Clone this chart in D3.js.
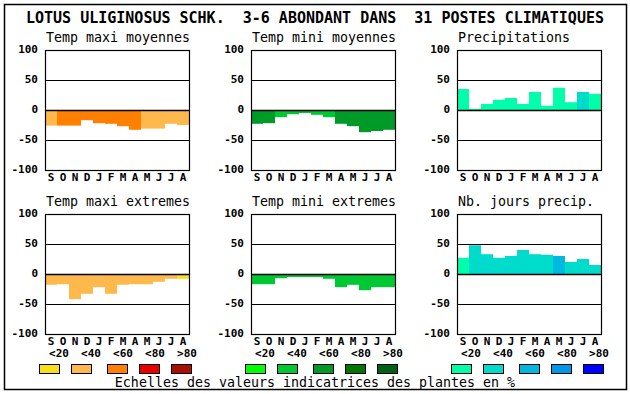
<!DOCTYPE html>
<html>
<head>
<meta charset="utf-8">
<script src="https://cdn.jsdelivr.net/npm/d3@7"></script>
<style>
  body { margin: 0; background: #fff; }
  text { font-family: "DejaVu Sans Mono", "Liberation Mono", monospace; fill: #000; }
</style>
</head>
<body>
<div id="chart"></div>
<script>
// data

var months = ["S", "O", "N", "D", "J", "F", "M", "A", "M", "J", "J", "A"];
var classLabels = ["<20", "<40", "<60", "<80", ">80"];
var yTicks = [100, 50, 0, -50, -100];

var tmaxMoy = [-26, -26, -26, -17, -22, -23, -27, -33, -31, -31, -23, -25];
var tmaxMoyCls = [1, 2, 2, 2, 2, 2, 2, 2, 1, 1, 1, 1];

var tminMoy = [-23, -22, -12, -7, -5, -8, -12, -23, -27, -37, -35, -33];
var tminMoyCls = [2, 2, 1, 1, 1, 1, 1, 2, 2, 2, 2, 2];

var precip = [35, 2, 10, 17, 20, 10, 30, 7, 37, 13, 30, 27];
var precipCls = [0, 0, 0, 0, 0, 0, 0, 0, 0, 0, 1, 0];

var tmaxExt = [-18, -17, -42, -33, -22, -33, -18, -17, -17, -13, -8, -8];
var tmaxExtCls = [1, 1, 1, 1, 1, 1, 1, 1, 1, 1, 1, 0];

var tminExt = [-17, -17, -7, -5, -5, -5, -8, -22, -18, -27, -22, -22];
var tminExtCls = [1, 1, 1, 1, 1, 1, 1, 1, 1, 1, 1, 1];

var nbJours = [27, 48, 33, 27, 30, 40, 33, 32, 30, 20, 25, 15];
var nbJoursCls = [0, 1, 1, 1, 1, 1, 1, 1, 2, 1, 1, 1];

var warmColors = ["#f8e018", "#ffb84c", "#ff8000", "#e80000", "#a81000"];
var greenColors = ["#00ff00", "#00c832", "#009a28", "#007800", "#006018"];
var wetColors = ["#00ffaa", "#00dccc", "#00b8e0", "#0098e8", "#0000ff"];

var title = "LOTUS ULIGINOSUS SCHK.  3-6 ABONDANT DANS  31 POSTES CLIMATIQUES";
var footer = "Echelles des valeurs indicatrices des plantes en %";

// layout

var svgWidth = 630;
var svgHeight = 394;
var plotW = 144;
var plotH = 120;

var panels = [
  { name: "Temp maxi moyennes", vals: tmaxMoy, cls: tmaxMoyCls, colors: warmColors, x: 45, y: 50 },
  { name: "Temp mini moyennes", vals: tminMoy, cls: tminMoyCls, colors: greenColors, x: 251, y: 50 },
  { name: "Precipitations", vals: precip, cls: precipCls, colors: wetColors, x: 457, y: 50 },
  { name: "Temp maxi extremes", vals: tmaxExt, cls: tmaxExtCls, colors: warmColors, x: 45, y: 214 },
  { name: "Temp mini extremes", vals: tminExt, cls: tminExtCls, colors: greenColors, x: 251, y: 214 },
  { name: "Nb. jours precip.", vals: nbJours, cls: nbJoursCls, colors: wetColors, x: 457, y: 214 }
];

var svg = d3.select("#chart")
  .append("svg")
  .attr("width", svgWidth)
  .attr("height", svgHeight);

svg.append("rect")
  .attr("x", 4.5).attr("y", 4.5)
  .attr("width", 622).attr("height", 385)
  .attr("fill", "none").attr("stroke", "#000").attr("stroke-width", 1.5);

svg.append("text")
  .attr("x", 26).attr("y", 18)
  .attr("dominant-baseline", "middle")
  .attr("font-size", "15px").attr("font-weight", "bold")
  .attr("xml:space", "preserve")
  .style("white-space", "pre")
  .text(title);

var xScale = d3.scaleBand().domain(d3.range(12)).range([0, plotW]).padding(0);
var yScale = d3.scaleLinear().domain([-100, 100]).range([plotH, 0]);

panels.forEach(function(p) {
  var g = svg.append("g").attr("transform", `translate(${p.x}, ${p.y})`);

  g.append("text")
    .attr("x", 1).attr("y", -12)
    .attr("dominant-baseline", "middle")
    .attr("font-size", "13.3px")
    .attr("xml:space", "preserve")
    .style("white-space", "pre")
    .text(p.name);

  // bars
  g.selectAll("rect.bar")
    .data(p.vals)
    .enter()
    .append("rect")
    .attr("class", "bar")
    .attr("x", (d, i) => xScale(i))
    .attr("width", xScale.bandwidth())
    .attr("y", d => yScale(Math.max(0, d)))
    .attr("height", d => Math.abs(yScale(d) - yScale(0)))
    .attr("fill", (d, i) => p.colors[p.cls[i]]);

  // grid lines
  g.selectAll("line.grid")
    .data([50, 0, -50])
    .enter()
    .append("line")
    .attr("x1", 0).attr("x2", plotW)
    .attr("y1", d => Math.round(yScale(d)) + 0.5)
    .attr("y2", d => Math.round(yScale(d)) + 0.5)
    .attr("stroke", "#000")
    .attr("stroke-width", d => d === 0 ? 1.6 : 1.2);

  g.append("rect")
    .attr("x", 0.5).attr("y", 0.5)
    .attr("width", plotW).attr("height", plotH)
    .attr("fill", "none").attr("stroke", "#000").attr("stroke-width", 1.2);

  // y tick labels
  g.selectAll("text.ytick")
    .data(yTicks)
    .enter()
    .append("text")
    .attr("class", "ytick")
    .attr("x", -7)
    .attr("y", d => yScale(d))
    .attr("text-anchor", "end")
    .attr("dominant-baseline", "middle")
    .attr("font-size", "11px").attr("font-weight", "bold")
    .text(d => d);

  // month labels
  g.selectAll("text.month")
    .data(months)
    .enter()
    .append("text")
    .attr("class", "month")
    .attr("x", (d, i) => xScale(i) + xScale.bandwidth() / 2)
    .attr("y", plotH + 7.5)
    .attr("text-anchor", "middle")
    .attr("dominant-baseline", "middle")
    .attr("font-size", "11px").attr("font-weight", "bold")
    .text(d => d);
});

// class scales under bottom row + legend boxes
var labelOffsets = [4, 36, 68, 100, 132];
var boxOffsets = [-6, 26, 62, 94, 126];

panels.slice(3).forEach(function(p) {
  var g = svg.append("g").attr("transform", `translate(${p.x}, 0)`);

  g.selectAll("text.cls")
    .data(classLabels)
    .enter()
    .append("text")
    .attr("x", (d, i) => labelOffsets[i] + 10)
    .attr("y", 354)
    .attr("text-anchor", "middle")
    .attr("dominant-baseline", "middle")
    .attr("font-size", "11px").attr("font-weight", "bold")
    .text(d => d);

  g.selectAll("rect.legend")
    .data(p.colors)
    .enter()
    .append("rect")
    .attr("x", (d, i) => boxOffsets[i] + 0.5)
    .attr("y", 364.5)
    .attr("width", 20).attr("height", 9)
    .attr("fill", d => d)
    .attr("stroke", "#000").attr("stroke-width", 1);
});

svg.append("text")
  .attr("x", 315).attr("y", 382.5)
  .attr("text-anchor", "middle")
  .attr("dominant-baseline", "middle")
  .attr("font-size", "13.3px")
  .text(footer);
</script>
</body>
</html>
